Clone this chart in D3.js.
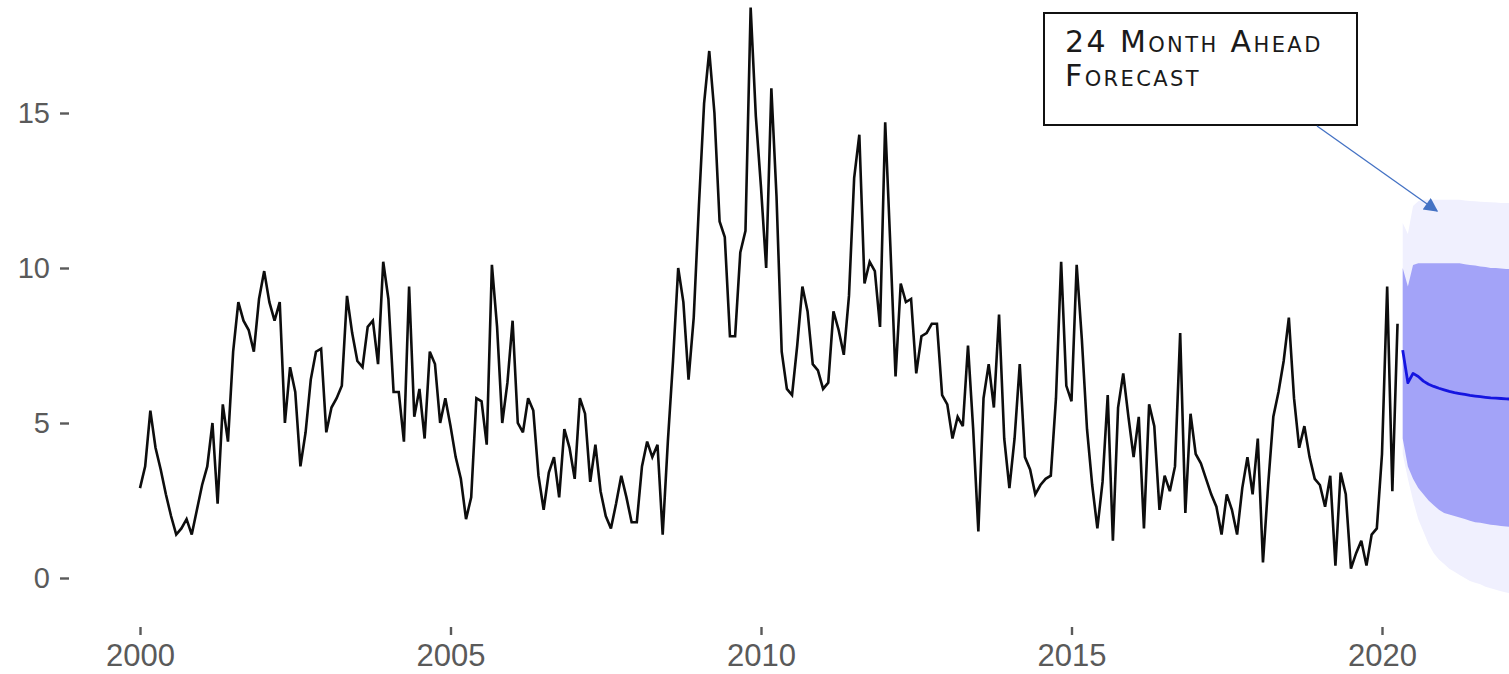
<!DOCTYPE html>
<html>
<head>
<meta charset="utf-8">
<script src="https://cdn.jsdelivr.net/npm/d3@7"></script>
<style>
  html, body { margin: 0; padding: 0; background: #ffffff; }
  svg { display: block; }
</style>
</head>
<body>
<svg id="chart" width="1509" height="674"></svg>
<script>
// ---------------- DATA ----------------
const startYear = 2000;              // first month of the series: Jan 2000
const monthsPerYear = 12;
// monthly observed values, Jan 2000 .. Apr 2020
const observed = [
  2.9, 3.6, 5.4, 4.2, 3.5, 2.7, 2.0, 1.4, 1.6, 1.9, 1.4, 2.2,      // 2000
  3.0, 3.6, 5.0, 2.4, 5.6, 4.4, 7.3, 8.9, 8.3, 8.0, 7.3, 9.0,      // 2001
  9.9, 8.9, 8.3, 8.9, 5.0, 6.8, 6.0, 3.6, 4.7, 6.4, 7.3, 7.4,      // 2002
  4.7, 5.5, 5.8, 6.2, 9.1, 7.9, 7.0, 6.8, 8.1, 8.3, 6.9, 10.2,     // 2003
  9.0, 6.0, 6.0, 4.4, 9.4, 5.2, 6.1, 4.5, 7.3, 6.9, 5.0, 5.8,      // 2004
  4.9, 3.9, 3.2, 1.9, 2.6, 5.8, 5.7, 4.3, 10.1, 8.1, 5.0, 6.3,     // 2005
  8.3, 5.0, 4.7, 5.8, 5.4, 3.3, 2.2, 3.4, 3.9, 2.6, 4.8, 4.2,      // 2006
  3.2, 5.8, 5.3, 3.1, 4.3, 2.8, 2.0, 1.6, 2.4, 3.3, 2.6, 1.8,      // 2007
  1.8, 3.6, 4.4, 3.9, 4.3, 1.4, 4.4, 7.0, 10.0, 8.9, 6.4, 8.4,     // 2008
  12.0, 15.3, 17.0, 15.0, 11.5, 11.0, 7.8, 7.8, 10.5, 11.2, 18.4, 14.9, // 2009
  12.6, 10.0, 15.8, 12.3, 7.3, 6.1, 5.9, 7.5, 9.4, 8.6, 6.9, 6.7,  // 2010
  6.1, 6.3, 8.6, 8.0, 7.2, 9.1, 12.9, 14.3, 9.5, 10.2, 9.9, 8.1,   // 2011
  14.7, 10.7, 6.5, 9.5, 8.9, 9.0, 6.6, 7.8, 7.9, 8.2, 8.2, 5.9,    // 2012
  5.6, 4.5, 5.2, 4.9, 7.5, 4.8, 1.5, 5.8, 6.9, 5.5, 8.5, 4.5,      // 2013
  2.9, 4.5, 6.9, 3.9, 3.5, 2.7, 3.0, 3.2, 3.3, 5.8, 10.2, 6.2,     // 2014
  5.7, 10.1, 7.7, 4.8, 3.0, 1.6, 3.1, 5.9, 1.2, 5.5, 6.6, 5.2,     // 2015
  3.9, 5.2, 1.6, 5.6, 4.9, 2.2, 3.3, 2.8, 3.6, 7.9, 2.1, 5.3,      // 2016
  4.0, 3.7, 3.2, 2.7, 2.3, 1.4, 2.7, 2.2, 1.4, 2.9, 3.9, 2.7,      // 2017
  4.5, 0.5, 3.0, 5.2, 6.0, 7.0, 8.4, 5.8, 4.2, 4.9, 3.9, 3.2,      // 2018
  3.0, 2.3, 3.3, 0.4, 3.4, 2.7, 0.3, 0.8, 1.2, 0.4, 1.4, 1.6,      // 2019
  4.0, 9.4, 2.8, 8.2                                                // 2020
];
// 24 month ahead forecast (May 2020 ..)
const fcMean = [7.35, 6.3, 6.6, 6.5, 6.35, 6.25, 6.18, 6.12, 6.07, 6.02, 5.98, 5.95,
                5.92, 5.89, 5.87, 5.85, 5.83, 5.81, 5.8, 5.79, 5.78, 5.77, 5.76, 5.76];
const fcLo80 = [4.5, 3.6, 3.2, 2.9, 2.7, 2.5, 2.35, 2.2, 2.1, 2.05, 2.0, 1.95,
                1.9, 1.85, 1.8, 1.78, 1.75, 1.72, 1.7, 1.68, 1.66, 1.65, 1.64, 1.63];
const fcHi80 = [10.0, 9.4, 10.1, 10.15, 10.15, 10.15, 10.15, 10.15, 10.15, 10.15, 10.15, 10.15,
                10.12, 10.1, 10.08, 10.05, 10.03, 10.0, 10.0, 9.98, 9.97, 9.96, 9.95, 9.95];
const fcLo95 = [4.0, 3.2, 2.5, 1.9, 1.5, 1.1, 0.8, 0.6, 0.45, 0.3, 0.2, 0.1,
                0.0, -0.1, -0.15, -0.2, -0.28, -0.33, -0.38, -0.43, -0.47, -0.5, -0.52, -0.55];
const fcHi95 = [11.45, 11.1, 12.0, 12.15, 12.2, 12.2, 12.2, 12.2, 12.2, 12.2, 12.2, 12.2,
                12.18, 12.16, 12.15, 12.14, 12.13, 12.12, 12.11, 12.1, 12.1, 12.1, 12.1, 12.1];
const xTicks = [2000, 2005, 2010, 2015, 2020];
const yTicks = [0, 5, 10, 15];
const annotationLines = ["24 Month Ahead", "Forecast"];

// ---------------- LAYOUT ----------------
const svg = d3.select("#chart");
const x = d3.scaleLinear().domain([2000, 2020]).range([140, 1382]);
const y = d3.scaleLinear().domain([0, 15]).range([578, 113]);
const panel = { left: 69, right: 1509, top: 0, bottom: 627 };

const obs = observed.map((v, i) => ({ t: startYear + i / monthsPerYear, v }));
const fcStart = startYear + observed.length / monthsPerYear;
const fc = fcMean.map((m, i) => ({
  t: fcStart + i / monthsPerYear, m,
  lo80: fcLo80[i], hi80: fcHi80[i], lo95: fcLo95[i], hi95: fcHi95[i]
}));

const defs = svg.append("defs");
defs.append("clipPath").attr("id", "clip")
  .append("rect").attr("x", panel.left).attr("y", panel.top)
  .attr("width", panel.right - panel.left).attr("height", panel.bottom - panel.top);

const g = svg.append("g").attr("clip-path", "url(#clip)");

// 95% band
g.append("path").datum(fc)
  .attr("fill", "#f0f0fe")
  .attr("d", d3.area().x(d => x(d.t)).y0(d => y(d.lo95)).y1(d => y(d.hi95)));
// 80% band
g.append("path").datum(fc)
  .attr("fill", "#a3a3f8")
  .attr("d", d3.area().x(d => x(d.t)).y0(d => y(d.lo80)).y1(d => y(d.hi80)));
// forecast mean
g.append("path").datum(fc)
  .attr("fill", "none").attr("stroke", "#1515e0").attr("stroke-width", 2.8)
  .attr("stroke-linejoin", "round")
  .attr("d", d3.line().x(d => x(d.t)).y(d => y(d.m)));
// observed series
g.append("path").datum(obs)
  .attr("fill", "none").attr("stroke", "#0d0d0d").attr("stroke-width", 2.6)
  .attr("stroke-linejoin", "miter").attr("stroke-miterlimit", 3)
  .attr("d", d3.line().x(d => x(d.t)).y(d => y(d.v)));

// ---------------- AXES ----------------
const axisColor = "#5a5a5a";
const yAxis = svg.append("g").attr("transform", `translate(${panel.left},0)`)
  .call(d3.axisLeft(y).tickValues(yTicks).tickSize(9).tickPadding(10).tickFormat(d3.format("d")));
const xAxis = svg.append("g").attr("transform", `translate(0,${panel.bottom})`)
  .call(d3.axisBottom(x).tickValues(xTicks).tickSize(8).tickPadding(9).tickFormat(d3.format("d")));
[yAxis, xAxis].forEach(a => {
  a.select(".domain").remove();
  a.selectAll(".tick line").attr("stroke", axisColor).attr("stroke-width", 2.4);
  a.selectAll(".tick text").attr("fill", axisColor)
    .style("font-family", "'Liberation Sans', Arial, sans-serif");
});
yAxis.selectAll(".tick text").style("font-size", "29px");
xAxis.selectAll(".tick text").style("font-size", "31px");

// ---------------- ANNOTATION ----------------
const box = { x: 1044, y: 13, w: 313, h: 112 };
svg.append("rect")
  .attr("x", box.x).attr("y", box.y).attr("width", box.w).attr("height", box.h)
  .attr("fill", "#fff").attr("stroke", "#111").attr("stroke-width", 2);
const txt = svg.append("text")
  .attr("x", box.x + 21).attr("y", box.y + 39)
  .style("font-family", "'DejaVu Sans', sans-serif")
  .style("font-size", "30px")
  .style("font-variant", "small-caps")
  .style("letter-spacing", "2.4px")
  .attr("fill", "#1a1a1a");
annotationLines.forEach((line, i) => {
  txt.append("tspan").attr("x", box.x + 21).attr("dy", i === 0 ? 0 : 34).text(line);
});

defs.append("marker")
  .attr("id", "arrowhead").attr("viewBox", "0 0 10 10")
  .attr("refX", 9).attr("refY", 5)
  .attr("markerWidth", 18).attr("markerHeight", 14)
  .attr("markerUnits", "userSpaceOnUse")
  .attr("orient", "auto")
  .append("path").attr("d", "M0,0 L10,5 L0,10 Z").attr("fill", "#4472c4");
svg.append("line")
  .attr("x1", 1317).attr("y1", 126).attr("x2", 1437).attr("y2", 211)
  .attr("stroke", "#4472c4").attr("stroke-width", 1.3)
  .attr("marker-end", "url(#arrowhead)");
</script>
</body>
</html>
